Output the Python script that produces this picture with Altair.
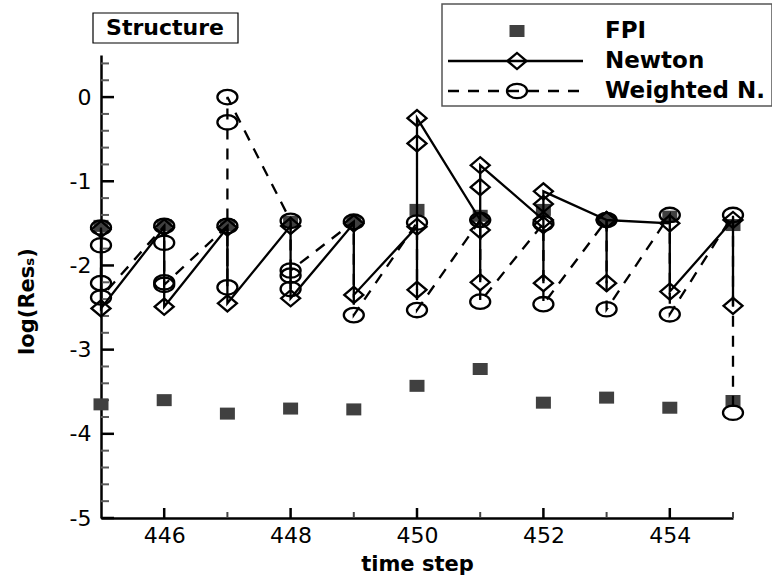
import altair as alt
import pandas as pd

# ---------------------------------------------------------------- data
steps = list(range(445, 456))

# FPI: residual at the first and at the last sub-iteration of each step
fpi_first = [-1.53, -1.52, -1.52, -1.48, -1.48, -1.34, -1.41, -1.34, -1.46, -1.42, -1.52]
fpi_last = [-3.65, -3.60, -3.76, -3.70, -3.71, -3.43, -3.23, -3.63, -3.57, -3.69, -3.61]

# Newton: residual history of every sub-iteration, one list per step
newton_iters = [
    [-1.57, -2.51],
    [-1.55, -2.49],
    [-1.55, -2.45],
    [-1.53, -2.39],
    [-1.50, -2.35],
    [-1.54, -2.29, -0.55, -0.25],
    [-1.46, -2.20, -1.58, -1.07, -0.81],
    [-1.46, -2.21, -1.52, -1.27, -1.12],
    [-1.46, -2.21, -1.46],
    [-1.50, -2.31],
    [-1.46, -2.48],
]

# Weighted Newton: residual history of every sub-iteration, one list per step
weighted_iters = [
    [-1.55, -1.76, -2.21, -2.38],
    [-1.53, -1.73, -2.20, -2.23],
    [-1.53, -2.26, -0.30, 0.00],
    [-1.47, -2.28, -2.12, -2.06],
    [-1.48, -2.59],
    [-1.49, -2.53],
    [-1.46, -2.43],
    [-1.50, -2.46],
    [-1.46, -2.52],
    [-1.40, -2.58],
    [-1.40, -3.75],
]

x_labels = [446, 448, 450, 452, 454]
y_labels = [-5, -4, -3, -2, -1, 0]
x_minor = [447, 449, 451, 453, 455]
y_minor = [round(-4.8 + 0.2 * i, 1) for i in range(27)]
y_minor = [v for v in y_minor if abs(v - round(v)) > 1e-6]


def history_frame(iters):
    rows = []
    k = 0
    for step, vals in zip(steps, iters):
        for v in vals:
            rows.append({"step": step, "value": v, "seq": k})
            k += 1
    return pd.DataFrame(rows)


fpi_df = pd.DataFrame({"step": steps * 2, "value": fpi_first + fpi_last})
newton_df = history_frame(newton_iters)
weighted_df = history_frame(weighted_iters)

# ---------------------------------------------------------------- style
W, H = 632, 463
FONT = "DejaVu Sans"
SQUARE = "M-1,-0.8H1V0.8H-1Z"
DIAMOND = "M-1,0L0,-0.85L1,0L0,0.85Z"
ELLIPSE = "M-1,0A1,0.72,0,1,1,1,0A1,0.72,0,1,1,-1,0Z"
DASH = [11, 9]
GREY = "#404040"

x_scale = alt.Scale(domain=[445, 455], nice=False, zero=False)
y_scale = alt.Scale(domain=[-5, 0.5], nice=False, zero=False)

x_axis = alt.Axis(
    values=x_labels, ticks=False, grid=False, labelOverlap=False,
    domainColor="black", domainWidth=2.5,
    labelFont=FONT, labelFontSize=22, labelColor="black", labelPadding=7,
    title="time step", titleFont=FONT, titleFontSize=21, titleFontWeight="bold",
    titleColor="black", titleY=46, titleBaseline="middle",
)
y_axis = alt.Axis(
    values=y_labels, ticks=False, grid=False, labelOverlap=False,
    labelExpr="'' + datum.value",
    domainColor="black", domainWidth=2.5,
    labelFont=FONT, labelFontSize=22, labelColor="black", labelPadding=10,
    title="log(Resₛ)", titleFont=FONT, titleFontSize=21, titleFontWeight="bold",
    titleColor="black", titleAngle=270, titleX=-74, titleY=246,
    titleAlign="center", titleBaseline="middle",
)

X = lambda f: alt.X(f, scale=x_scale, axis=x_axis)
Y = lambda f: alt.Y(f, scale=y_scale, axis=y_axis)

# ---------------------------------------------------------------- inward ticks
y_major_ticks = alt.Chart(pd.DataFrame({"value": y_labels})).mark_rule(
    color="black", strokeWidth=2.5
).encode(y=Y("value:Q"), x=alt.value(0), x2=alt.value(13))

y_minor_ticks = alt.Chart(pd.DataFrame({"value": y_minor})).mark_rule(
    color="#5a5a5a", strokeWidth=2
).encode(y=Y("value:Q"), x=alt.value(0), x2=alt.value(8))

x_major_ticks = alt.Chart(pd.DataFrame({"step": x_labels})).mark_rule(
    color="black", strokeWidth=2.5
).encode(x=X("step:Q"), y=alt.value(H), y2=alt.value(H - 10))

x_minor_ticks = alt.Chart(pd.DataFrame({"step": x_minor})).mark_rule(
    color="#444444", strokeWidth=2
).encode(x=X("step:Q"), y=alt.value(H), y2=alt.value(H - 6))

# ---------------------------------------------------------------- series
fpi_pts = alt.Chart(fpi_df).mark_point(
    shape=SQUARE, filled=True, color=GREY, size=225, strokeWidth=0, opacity=1
).encode(x=X("step:Q"), y=Y("value:Q"))

weighted_line = alt.Chart(weighted_df).mark_line(
    color="black", strokeWidth=2.3, strokeDash=DASH
).encode(x=X("step:Q"), y=Y("value:Q"), order="seq:Q")

newton_line = alt.Chart(newton_df).mark_line(
    color="black", strokeWidth=2.3
).encode(x=X("step:Q"), y=Y("value:Q"), order="seq:Q")

weighted_pts = alt.Chart(weighted_df).mark_point(
    shape=ELLIPSE, filled=False, color="black", size=400, strokeWidth=2.3, opacity=1
).encode(x=X("step:Q"), y=Y("value:Q"))

newton_pts = alt.Chart(newton_df).mark_point(
    shape=DIAMOND, filled=False, color="black", size=361, strokeWidth=2.3, opacity=1
).encode(x=X("step:Q"), y=Y("value:Q"))

# ---------------------------------------------------------------- legend & label box
one = pd.DataFrame({"k": [0]})


def box(x0, x1, y0, y1, stroke, sw):
    return alt.Chart(one).mark_rect(
        fill="white", stroke=stroke, strokeWidth=sw
    ).encode(x=alt.value(x0), x2=alt.value(x1), y=alt.value(y0), y2=alt.value(y1))


def label(txt, x, y, size, align="left"):
    return alt.Chart(one).mark_text(
        text=txt, font=FONT, fontSize=size, fontWeight="bold", color="black",
        align=align, baseline="middle"
    ).encode(x=alt.value(x), y=alt.value(y))


def seg(x0, x1, y, dash=None):
    kw = {"color": "black", "strokeWidth": 2.3}
    if dash:
        kw["strokeDash"] = dash
    return alt.Chart(one).mark_rule(**kw).encode(
        x=alt.value(x0), x2=alt.value(x1), y=alt.value(y)
    )


def sym(shape, x, y, size, filled, color):
    return alt.Chart(one).mark_point(
        shape=shape, size=size, filled=filled, color=color,
        strokeWidth=0 if filled else 2.3, opacity=1
    ).encode(x=alt.value(x), y=alt.value(y))


LX, LTXT = 416, 504
ROWS = [-24, 6, 36]

legend = [
    box(341, 671, -51, 51, "#555555", 1.5),
    sym(SQUARE, LX, ROWS[0], 225, True, GREY),
    label("FPI", LTXT, ROWS[0], 23),
    seg(347, 482, ROWS[1]),
    sym(DIAMOND, LX, ROWS[1], 361, False, "black"),
    label("Newton", LTXT, ROWS[1], 23),
    seg(347, 484, ROWS[2], DASH),
    sym(ELLIPSE, LX, ROWS[2], 400, False, "black"),
    label("Weighted N.", LTXT, ROWS[2], 23),
]

tag = [
    box(-8, 137, -42, -12, "black", 1.2),
    label("Structure", 64, -27, 22, align="center"),
]

chart = alt.layer(
    y_minor_ticks, y_major_ticks, x_minor_ticks, x_major_ticks,
    fpi_pts, weighted_line, newton_line, weighted_pts, newton_pts,
    *legend, *tag,
).properties(
    width=W, height=H, autosize="none",
    padding={"left": 101, "top": 55, "right": 39, "bottom": 57},
    background="white",
).configure_view(stroke=None)

chart.save("out.html", embed_options={"renderer": "svg", "actions": False})
